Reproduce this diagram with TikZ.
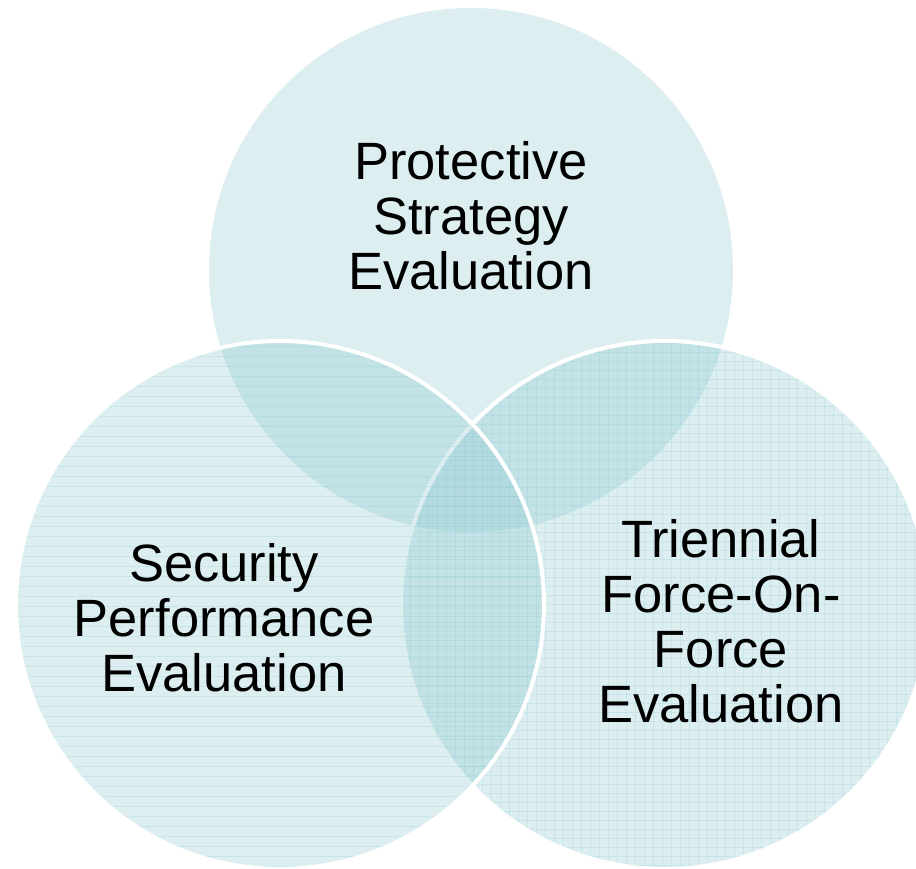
\documentclass[tikz,border=0pt]{standalone}
\usepackage{fontspec}
\setmainfont{Liberation Sans}
\definecolor{venn}{RGB}{140,200,207}
\definecolor{hatch}{RGB}{120,195,205}
\begin{document}
\begin{tikzpicture}[x=1pt,y=-1pt,
  disc/.style={fill=venn,fill opacity=0.3},
  rim/.style={draw=white,line width=4pt},
  hatchline/.style={draw=hatch,line width=0.8pt,opacity=0.2},
  lbl/.style={font=\fontsize{52.5}{55}\selectfont,align=center,inner sep=0pt,text=black}]
\useasboundingbox[fill=white] (0,0) rectangle (916,868);
\coordinate (ct) at (471,270);
\coordinate (cl) at (280,605);
\coordinate (cr) at (665,605);
% top circle
\fill[disc] (ct) circle[radius=262pt];
% bottom-right circle with grid
\fill[disc] (cr) circle[radius=264pt];
\begin{scope}
  \clip (cr) circle[radius=264pt];
  \foreach \v in {401,410,...,931} \draw[hatchline] (\v,330) -- (\v,880);
  \foreach \h in {343,352,...,880} \draw[hatchline] (390,\h) -- (940,\h);
\end{scope}
\draw[rim] (cr) circle[radius=264pt];
% bottom-left circle with horizontal lines
\fill[disc] (cl) circle[radius=264pt];
\begin{scope}
  \clip (cl) circle[radius=264pt];
  \foreach \h in {346,356,...,880} \draw[hatchline] (0,\h) -- (560,\h);
\end{scope}
\draw[rim] (cl) circle[radius=264pt];
% labels
\node[lbl] (t1) at (471,216) {Protective\\Strategy\\Evaluation};
\node[lbl] (t2) at (224,618) {Security\\Performance\\Evaluation};
\node[lbl] (t3) at (721,621) {Triennial\\Force-On-\\Force\\Evaluation};
\end{tikzpicture}
\end{document}
